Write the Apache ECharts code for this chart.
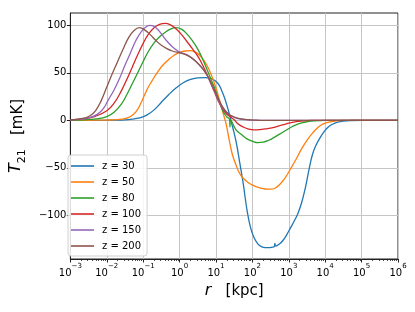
<!DOCTYPE html>
<html><head><meta charset="utf-8">
<script src="https://cdn.jsdelivr.net/npm/echarts@6/dist/echarts.min.js"></script>
<style>html,body{margin:0;padding:0;background:#fff}#c{width:415px;height:312px}</style>
</head><body><div id="c"></div>
<script>
// log10(r [kpc]) sample positions and T21 [mK] values per redshift
const z30_logr = [-3,-2.6,-2.2,-1.8,-1.5,-1.3,-1.1,-0.9,-0.7,-0.5,-0.3,-0.1,0.1,0.3,0.5,0.7,0.9,1.05,1.15,1.25,1.35,1.45,1.55,1.65,1.75,1.85,1.95,2.05,2.15,2.25,2.35,2.45,2.55,2.6,2.62,2.64,2.75,2.85,2.95,3.05,3.15,3.25,3.35,3.45,3.55,3.65,3.75,3.85,3.95,4.1,4.3,4.5,4.7,5,5.5,6];
const z30_T    = [0,0,0,0.2,0.5,1.2,2.5,5.5,11,19,27,34,39.5,43,44.8,45,43.5,39,32,22,9,-6,-22,-44,-67,-94,-113,-124,-130,-133,-134,-134,-133.5,-133,-129.5,-132.5,-130,-126,-120,-113,-106,-98,-87,-72,-53,-36,-26,-19,-13,-6.5,-2.5,-0.8,-0.2,0,0,0];
const z50_logr = [-3,-2.5,-2,-1.7,-1.5,-1.35,-1.2,-1.05,-0.9,-0.75,-0.6,-0.45,-0.3,-0.15,0,0.15,0.3,0.45,0.6,0.75,0.9,1.0,1.1,1.2,1.28,1.36,1.45,1.55,1.65,1.75,1.9,2.05,2.2,2.35,2.5,2.62,2.75,2.9,3.05,3.2,3.35,3.5,3.65,3.8,3.95,4.1,4.3,4.5,5,6];
const z50_T    = [0,0.1,0.3,0.8,1.8,4,9,19,32,42,51,58.5,64,68.5,71.5,73,73.3,71.5,66.5,58,45,34,21,7,-4,-20,-36,-47,-56,-61,-66,-69,-71,-72.3,-72.5,-71.5,-67.5,-60.5,-51,-41,-30,-21,-13.5,-7.5,-3.8,-1.8,-0.6,-0.1,0,0];
const z80_logr = [-3,-2.6,-2.3,-2.0,-1.8,-1.6,-1.45,-1.3,-1.15,-1.0,-0.85,-0.7,-0.55,-0.4,-0.25,-0.1,0.05,0.2,0.35,0.5,0.65,0.8,0.95,1.1,1.2,1.3,1.37,1.385,1.395,1.45,1.55,1.7,1.85,2.0,2.15,2.3,2.45,2.6,2.75,2.9,3.05,3.2,3.35,3.5,3.7,4.0,6];
const z80_T    = [0,0.5,1.5,4,8.5,17,27,38.5,50,62,73,81.5,88,92.5,96,97.5,96,91,84,75,63,49,35,19,9,3.5,1.5,-7,1,-2.5,-10,-15,-19.5,-22,-23.5,-23,-21,-18,-14.5,-11,-7.5,-4.7,-2.8,-1.5,-0.5,0,0];
const z100_logr = [-3,-2.6,-2.3,-2.0,-1.8,-1.6,-1.45,-1.3,-1.15,-1.0,-0.85,-0.7,-0.55,-0.4,-0.25,-0.1,0.05,0.2,0.35,0.5,0.65,0.8,0.95,1.1,1.25,1.4,1.5,1.6,1.75,1.9,2.05,2.2,2.35,2.5,2.65,2.8,2.95,3.1,3.25,3.4,3.6,4.0,6];
const z100_T    = [0.5,1.8,4.5,10,18,31,43,56,69,81,91,97.5,101,102,100.5,96.5,90.5,83,75.5,67.5,57,44,30.5,17.5,8.5,3.5,0.5,-3.5,-7,-9.2,-10,-9.8,-9.1,-8.2,-6.8,-5,-3.5,-2.2,-1.2,-0.5,-0.1,0,0];
const z150_logr = [-3,-2.7,-2.45,-2.25,-2.1,-1.95,-1.8,-1.65,-1.5,-1.35,-1.2,-1.05,-0.9,-0.8,-0.65,-0.5,-0.35,-0.2,-0.05,0.1,0.25,0.4,0.55,0.7,0.85,1.0,1.15,1.3,1.45,1.6,1.8,2.0,2.3,6];
const z150_T    = [0.5,1.3,3,6.5,12,22,32,44,58,71,84,93.5,99,100,97.5,91,83.5,77.5,73,70.5,68,63.5,58,51,40,27,15,8,4,1.8,0.7,0.3,0,0];
const z200_logr = [-3,-2.8,-2.6,-2.45,-2.3,-2.15,-2.0,-1.85,-1.7,-1.55,-1.4,-1.25,-1.1,-0.95,-0.8,-0.65,-0.5,-0.35,-0.2,0,0.15,0.3,0.45,0.6,0.75,0.9,1.05,1.2,1.35,1.5,1.65,1.85,2.1,2.4,6];
const z200_T    = [0.5,1.2,2.5,5,10.5,21,35,49,62,75,87,94.5,97.5,95,90,84,79,75.5,73,71,69.5,66.5,62,56,48,37,24,13,6.5,3.5,1.8,0.7,0.2,0,0];

const seriesNames = ['z = 30','z = 50','z = 80','z = 100','z = 150','z = 200'];
const seriesLogR = [z30_logr,z50_logr,z80_logr,z100_logr,z150_logr,z200_logr];
const seriesT = [z30_T,z50_T,z80_T,z100_T,z150_T,z200_T];
const colors = ['#1f77b4','#ff7f0e','#2ca02c','#d62728','#9467bd','#8c564b'];
const yTicks = [-100,-50,0,50,100];

const minorVals = [];
for (let d=-3; d<6; d++) for (let m=2; m<=9; m++) minorVals.push(m*Math.pow(10,d));

const chart = echarts.init(document.getElementById('c'), null, {renderer:'canvas'});
const font = 'DejaVu Sans';
const series = seriesNames.map((n,i)=>({
  name:n, type:'line', showSymbol:false, symbol:'none', smooth:0.45,
  lineStyle:{width:1.3, color:colors[i]}, itemStyle:{color:colors[i]},
  data: seriesLogR[i].map((l,k)=>[Math.pow(10,l), seriesT[i][k]]), z:3+i
}));
const fmtMinus = v => String(v).replace('-', '\u2212');
chart.setOption({
  animation:false,
  textStyle:{fontFamily:font},
  grid:{left:62, right:17, top:13, bottom:53, show:true, borderColor:'#222', borderWidth:1},
  legend:{
    orient:'vertical', left:68, top:155, data:seriesNames,
    icon:'rect', itemWidth:23, itemHeight:1.6, itemGap:4,
    backgroundColor:'rgba(255,255,255,0.85)', borderColor:'#d0d0d0', borderWidth:1, borderRadius:3,
    padding:[5,6,4,3],
    textStyle:{fontFamily:font, fontSize:10, color:'#000', lineHeight:12, padding:[0,0,0,3]}
  },
  xAxis:[{
    type:'log', logBase:10, min:0.001, max:1e6,
    name:'{i|r}{n|   [kpc]}', nameLocation:'middle', nameGap:24,
    nameTextStyle:{rich:{i:{fontFamily:font, fontStyle:'italic', fontSize:16, color:'#000'}, n:{fontFamily:font, fontSize:15, color:'#000'}}},
    axisLine:{show:true, onZero:false, lineStyle:{color:'#222', width:1}},
    axisTick:{show:true, inside:false, length:3.5, lineStyle:{color:'#222'}},
    axisLabel:{margin:4, formatter:v=>{const e=Math.round(Math.log10(v)); return '{b|10}{s|'+fmtMinus(e)+'}';},
      rich:{b:{fontFamily:font, fontSize:10, color:'#000', verticalAlign:'bottom', lineHeight:15}, s:{fontFamily:font, fontSize:7, color:'#000', verticalAlign:'top', lineHeight:15}}},
    splitLine:{show:true, lineStyle:{color:'#c6c6c6', width:1}}
  },{
    type:'log', logBase:10, min:0.001, max:1e6, position:'bottom',
    axisLine:{show:false, onZero:false}, axisLabel:{show:false}, splitLine:{show:false},
    axisTick:{show:true, length:2, customValues:minorVals, lineStyle:{color:'#222', width:0.8}}
  }],
  yAxis:{
    type:'value', min:-146, max:113, interval:50,
    name:'{i|T}{sub|21}{n|   [mK]}', nameLocation:'middle', nameGap:40, nameRotate:90,
    nameTextStyle:{rich:{i:{fontFamily:font, fontStyle:'italic', fontSize:16, color:'#000', verticalAlign:'top', lineHeight:20}, sub:{fontFamily:font, fontSize:11, color:'#000', verticalAlign:'bottom', lineHeight:20}, n:{fontFamily:font, fontSize:15, color:'#000', lineHeight:20}}},
    axisLine:{show:true, lineStyle:{color:'#222', width:1}},
    axisTick:{show:true, length:3.5, customValues:yTicks, lineStyle:{color:'#222'}},
    axisLabel:{margin:4, fontFamily:font, fontSize:10, color:'#000', customValues:yTicks, formatter:v=>(v%50===0? fmtMinus(v):'')},
    splitLine:{show:true, lineStyle:{color:'#c6c6c6', width:1}}
  },
  series: series
});
</script></body></html>
